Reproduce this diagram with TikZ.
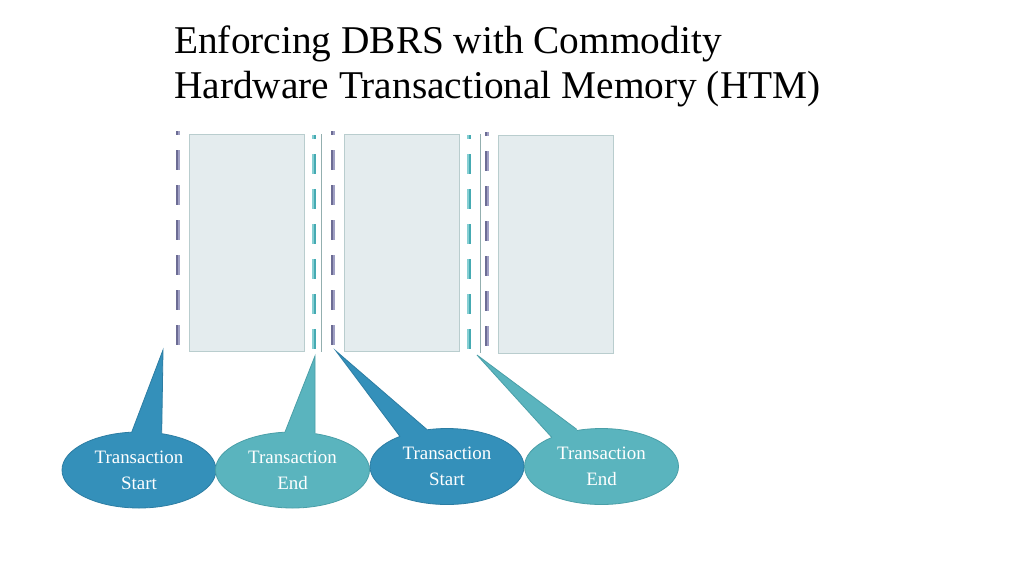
\documentclass[tikz,border=0pt]{standalone}
\usepackage{fontspec}
\setmainfont{Liberation Serif}
\usetikzlibrary{shapes.geometric,calc}
\definecolor{boxfill}{HTML}{E4ECEE}
\definecolor{boxline}{HTML}{B9CDCE}
\definecolor{purpdark}{HTML}{6C6C94}
\definecolor{purplight}{HTML}{A0A0C4}
\definecolor{tealdark}{HTML}{45AAB2}
\definecolor{teallight}{HTML}{86CFD3}
\definecolor{sepline}{HTML}{93AFAF}
\definecolor{calldark}{HTML}{3490BA}
\definecolor{calldarkedge}{HTML}{2C7DA3}
\definecolor{callteal}{HTML}{5AB4BE}
\definecolor{calltealedge}{HTML}{4A9FA8}
\begin{document}
\begin{tikzpicture}[x=0.75pt,y=-0.75pt,
  titletext/.style={anchor=base west,inner sep=0pt,font=\fontsize{29.5}{34}\selectfont},
  timebox/.style={draw=boxline,fill=boxfill,line width=0.75pt,inner sep=0pt,anchor=north west,minimum width=86.25pt},
  dashpat/.style={line width=1.6pt,dash pattern=on 15pt off 11.25pt,dash phase=12pt},
  sepstyle/.style={draw=sepline,line width=1.1pt},
  bubble/.style={ellipse,inner sep=0pt,minimum width=115.5pt,minimum height=57pt,
    text=white,align=center,font=\fontsize{14.2}{19.3}\selectfont,line width=0.6pt},
  startbubble/.style={bubble,fill=calldark,draw=calldarkedge},
  endbubble/.style={bubble,fill=callteal,draw=calltealedge},
  startptr/.style={fill=calldark,draw=calldarkedge,line width=0.6pt},
  endptr/.style={fill=callteal,draw=calltealedge,line width=0.6pt},
]
\useasboundingbox (0,0) rectangle (1024,576);
\fill[white] (0,0) rectangle (1024,576);

% title
\node[titletext] (title1) at (174,53) {Enforcing DBRS with Commodity};
\node[titletext] (title2) at (174,98) {Hardware Transactional Memory (HTM)};

% time boxes
\node[timebox,minimum height=162.75pt] (box1) at (189,134) {};
\node[timebox,minimum height=162.75pt] (box2) at (344,134) {};
\node[timebox,minimum height=163.5pt] (box3) at (498,135) {};

% purple dashed lines (transaction start)
\foreach \x/\ya/\yb in {178/131/350, 333/131/350, 487/132/352}{
  \draw[dashpat,purpdark] (\x-1,\ya) -- (\x-1,\yb);
  \draw[dashpat,purplight] (\x+1,\ya) -- (\x+1,\yb);
}
% teal dashed lines (transaction end)
\foreach \x in {314, 469}{
  \draw[dashpat,teallight] (\x-1,135) -- (\x-1,353);
  \draw[dashpat,tealdark] (\x+1,135) -- (\x+1,353);
}
% solid separators
\draw[sepstyle] (321.5,134) -- (321.5,352);
\draw[sepstyle] (480.5,134) -- (480.5,353);

% tips
\coordinate (tip1) at (163,350);
\coordinate (tip2) at (315,356);
\coordinate (tip3) at (336,351);
\coordinate (tip4) at (477,355);

% bubbles
\node[startbubble] (b1) at (139,470) {Transaction\\Start};
\node[endbubble] (b2) at (292.5,470) {Transaction\\End};
\node[startbubble] (b3) at (447,466.5) {Transaction\\Start};
\node[endbubble] (b4) at (601.5,466.5) {Transaction\\End};

% pointers (side edges drawn, base tucked inside the ellipse)
\fill[calldark] (131.7,432.2) -- (tip1) -- (161.7,433.2) -- (161.7,440) -- (131.7,440) -- cycle;
\draw[calldarkedge,line width=0.6pt] (131.7,432.2) -- (tip1) -- (161.7,433.2);
\fill[callteal] (285,432) -- (tip2) -- (315,433) -- (315,440) -- (285,440) -- cycle;
\draw[calltealedge,line width=0.6pt] (285,432) -- (tip2) -- (315,433);
\fill[calldark] (400,436.5) -- (tip3) -- (426.7,429.3) -- (428,438) -- (402,443) -- cycle;
\draw[calldarkedge,line width=0.6pt] (400,436.5) -- (tip3) -- (426.7,429.3);
\fill[callteal] (551.7,437.3) -- (tip4) -- (576.7,429.3) -- (578,438) -- (554,443) -- cycle;
\draw[calltealedge,line width=0.6pt] (551.7,437.3) -- (tip4) -- (576.7,429.3);
\end{tikzpicture}
\end{document}
